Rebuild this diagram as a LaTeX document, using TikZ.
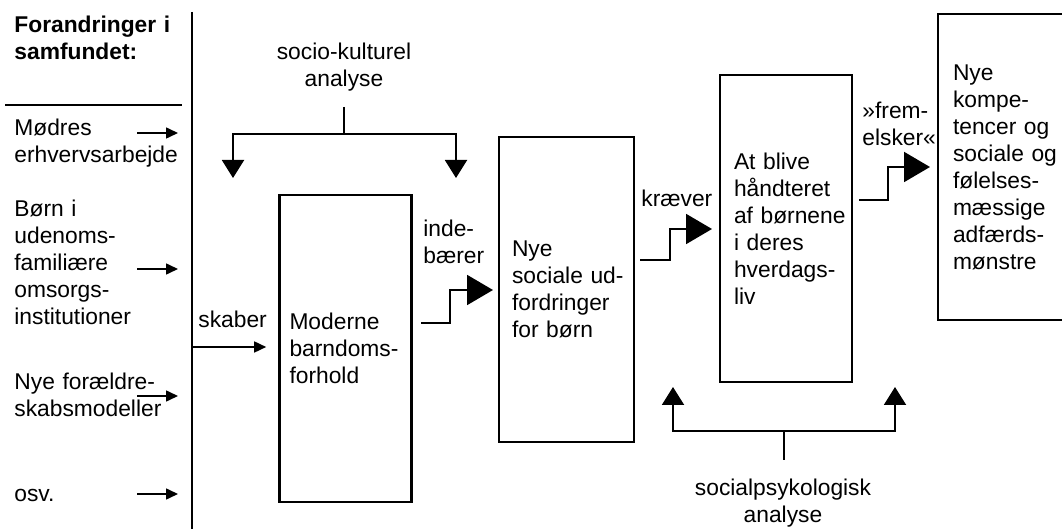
\documentclass[tikz,border=0pt]{standalone}
\usepackage{fontspec}
\setmainfont{Liberation Sans}
\usetikzlibrary{arrows.meta}
\hyphenpenalty=10000
\exhyphenpenalty=10000

\tikzset{
  box/.style={draw, line width=1.3pt, align=left, inner ysep=0pt},
  lbl/.style={align=left, inner sep=0pt, anchor=base west, text width=100pt},
  smallarrow/.style={line width=0.8pt, -{Triangle[length=6pt,width=5.5pt]}},
  brarrow/.style={line width=1pt, -{Triangle[length=9pt,width=11pt]}},
  steparrow/.style={line width=1pt, -{Triangle[length=13pt,width=15pt]}},
}

\begin{document}
\begin{tikzpicture}[x=0.5pt, y=-0.5pt, font=\fontsize{11.4}{13.5}\selectfont]
\useasboundingbox (0,0) rectangle (1062,529);
\clip (0,0) rectangle (1062,529);

% left column
\node[lbl, font=\fontsize{11.4}{13.5}\selectfont\bfseries] (titel) at (14,33) {Forandringer i\\samfundet:};
\draw[line width=1pt] (5,105) -- (182,105);
\draw[line width=1pt] (192,12) -- (192,529);

\node[lbl] (moedre) at (14,136) {Mødres\\erhvervsarbejde};
\node[lbl] (boern) at (14,217) {Børn i\\udenoms-\\familiære\\omsorgs-\\institutioner};
\node[lbl] (foraeldre) at (14,390) {Nye forældre-\\skabsmodeller};
\node[lbl] (osv) at (14,502) {osv.};

\foreach \y [count=\i] in {133,269,396,494} {
  \coordinate (ind\i) at (137,\y);
  \draw[smallarrow] (ind\i) -- ++(41,0);
}

% boxes
\node[box, minimum width=66pt, minimum height=153.5pt, text width=56pt]
  (barndom) at (345.5,348.5) {Moderne\\barndoms-\\forhold};
\node[box, minimum width=67.5pt, minimum height=152.5pt, text width=54.5pt]
  (udfordring) at (566.5,289.5) {Nye\\sociale~ud-\\fordringer\\for~børn};
\node[box, minimum width=66pt, minimum height=153.5pt, text width=52pt]
  (haandtering) at (786,228.5) {At~blive\\håndteret\\af~børnene\\i~deres\\hverdags-\\liv};
\node[box, minimum width=68.5pt, minimum height=153pt, text width=53.5pt]
  (kompetencer) at (1006.5,167) {Nye\\kompe-\\tencer~og\\sociale~og\\følelses-\\mæssige\\adfærds-\\mønstre};

% labels on the arrows
\node[lbl] (skaber) at (198,328) {skaber};
\node[lbl] (indebaerer) at (423,237) {inde-\\bærer};
\node[lbl] (kraever) at (641,207) {kræver};
\node[lbl] (fremelsker) at (862,119) {»frem-\\elsker«};

\coordinate (skab) at (192,347);
\draw[smallarrow] (skab) -- ([xshift=-6pt]barndom.west |- skab);

\coordinate (s1a) at (421,323); \coordinate (s1b) at (493,290);
\draw[steparrow] (s1a) -- ++(29,0) |- (s1b);
\coordinate (s2a) at (640,260); \coordinate (s2b) at (712,229);
\draw[steparrow] (s2a) -- ++(30,0) |- (s2b);
\coordinate (s3a) at (859,200); \coordinate (s3b) at (930,167);
\draw[steparrow] (s3a) -- ++(29,0) |- (s3b);

% socio-kulturel analyse
\node[align=center, inner sep=0pt] (sociokult) at (344,67) {socio-kulturel\\analyse};
\coordinate (skstem) at (344,107); \coordinate (skmid) at (344,134);
\coordinate (skL) at (233,178); \coordinate (skR) at (456,178);
\draw[line width=1pt] (skstem) -- (skmid);
\draw[brarrow] (skmid) -| (skL);
\draw[brarrow] (skmid) -| (skR);

% socialpsykologisk analyse
\node[align=center, inner sep=0pt] (socialpsyk) at (783,503) {socialpsykologisk\\analyse};
\coordinate (spstem) at (784,460); \coordinate (spmid) at (784,431);
\coordinate (spL) at (673,387); \coordinate (spR) at (895,387);
\draw[line width=1pt] (spstem) -- (spmid);
\draw[brarrow] (spmid) -| (spL);
\draw[brarrow] (spmid) -| (spR);

\end{tikzpicture}
\end{document}
